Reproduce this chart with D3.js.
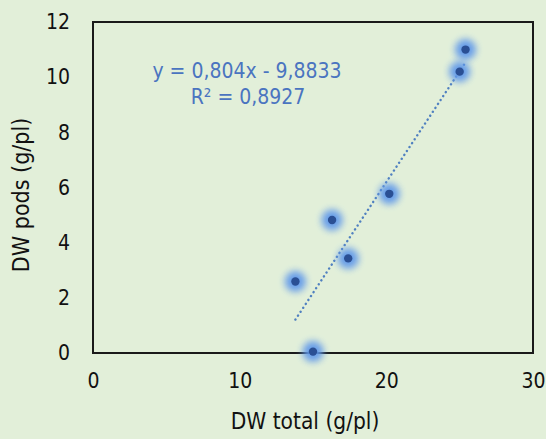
<!DOCTYPE html>
<html><head><meta charset="utf-8">
<script src="https://cdn.jsdelivr.net/npm/d3@7"></script>
<style>html,body{margin:0;padding:0;background:#E2EFD9;}svg{display:block;}</style>
</head><body>
<script>
const dwTotal = [25.4, 25.0, 20.2, 16.3, 17.4, 13.8, 15.0];
const dwPods  = [11.0, 10.2, 5.77, 4.82, 3.43, 2.59, 0.05];
const xTicks = [0, 10, 20, 30];
const yTicks = [0, 2, 4, 6, 8, 10, 12];
const trendCoef = [0.804, -9.8833];
const eqLabels = ["y = 0,804x - 9,8833", "R² = 0,8927"];

const W = 546, H = 439;
const m = {l: 93, r: 13, t: 22, b: 86};
const svg = d3.select("body").append("svg").attr("width", W).attr("height", H);
svg.append("rect").attr("width", W).attr("height", H).attr("fill", "#E2EFD9");

const x = d3.scaleLinear().domain([0, 30]).range([m.l, W - m.r]);
const y = d3.scaleLinear().domain([0, 12]).range([H - m.b, m.t]);

const defs = svg.append("defs");
defs.append("filter").attr("id", "glow").attr("x", "-100%").attr("y", "-100%").attr("width", "300%").attr("height", "300%")
  .append("feGaussianBlur").attr("stdDeviation", 3.8);

const font = "'DejaVu Sans Condensed', 'DejaVu Sans', sans-serif";

// frame
svg.append("rect").attr("x", x(0)).attr("y", y(12)).attr("width", x(30) - x(0)).attr("height", y(0) - y(12))
  .attr("fill", "none").attr("stroke", "#1a1a1a").attr("stroke-width", 2);

// axes (labels only)
const xAxis = svg.append("g").attr("transform", `translate(0,${y(0)})`)
  .call(d3.axisBottom(x).tickValues(xTicks).tickSize(0).tickPadding(20).tickFormat(d3.format("d")));
const yAxis = svg.append("g").attr("transform", `translate(${x(0)},0)`)
  .call(d3.axisLeft(y).tickValues(yTicks).tickSize(0).tickPadding(23).tickFormat(d3.format("d")));
[xAxis, yAxis].forEach(a => {
  a.select(".domain").remove();
  a.selectAll("text").attr("font-family", font).attr("font-size", 21).attr("fill", "#111");
});

// axis titles
svg.append("text").attr("x", 305).attr("y", 429).attr("text-anchor", "middle")
  .attr("font-family", font).attr("font-size", 22.5).attr("fill", "#111").text("DW total (g/pl)");
svg.append("text").attr("transform", `translate(29,195) rotate(-90)`).attr("text-anchor", "middle")
  .attr("font-family", font).attr("font-size", 23).attr("fill", "#111").text("DW pods (g/pl)");

// trendline
const x0 = d3.min(dwTotal), x1 = d3.max(dwTotal);
svg.append("line")
  .attr("x1", x(x0)).attr("y1", y(trendCoef[0] * x0 + trendCoef[1]))
  .attr("x2", x(x1)).attr("y2", y(trendCoef[0] * x1 + trendCoef[1]))
  .attr("stroke", "#5080C0").attr("stroke-width", 2.4).attr("stroke-dasharray", "0.1 4.6").attr("stroke-linecap", "round");

// points
const pts = dwTotal.map((d, i) => ({x: d, y: dwPods[i]}));
const g = svg.append("g");
g.selectAll("circle.glow").data(pts).enter().append("circle").attr("class", "glow")
  .attr("cx", d => x(d.x)).attr("cy", d => y(d.y)).attr("r", 10.5)
  .attr("fill", "#6099EA").attr("opacity", 0.95).attr("filter", "url(#glow)");
g.selectAll("circle.dot").data(pts).enter().append("circle").attr("class", "dot")
  .attr("cx", d => x(d.x)).attr("cy", d => y(d.y)).attr("r", 4.2)
  .attr("fill", "#2A4F94");

// equation
svg.append("text").attr("x", 247).attr("y", 78).attr("text-anchor", "middle")
  .attr("font-family", font).attr("font-size", 21).attr("fill", "#4A74C0").text(eqLabels[0]);
svg.append("text").attr("x", 248).attr("y", 104).attr("text-anchor", "middle")
  .attr("font-family", font).attr("font-size", 21).attr("fill", "#4A74C0").text(eqLabels[1]);
</script>
</body></html>
